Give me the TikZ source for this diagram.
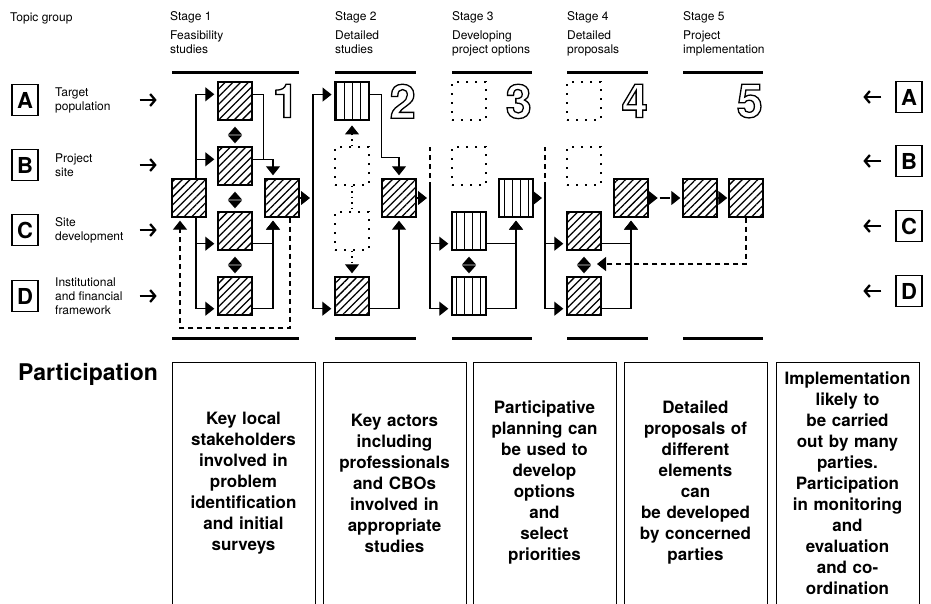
\documentclass[tikz,border=0pt]{standalone}
\usepackage{fontspec}
\setmainfont{TeX Gyre Heros}
\usetikzlibrary{arrows.meta,patterns.meta}

% outlined stage numbers (stroke-only text)
\newcommand\outlined[1]{\special{pdf:literal direct 1 Tr 1.3 w}#1\special{pdf:literal direct 0 Tr}}

\tikzset{
  tri/.tip={Triangle[length=9pt,width=14pt]},
  stagebox/.style={draw, line width=1.4pt, minimum width=34pt, minimum height=38pt, inner sep=0pt},
  hatched/.style={stagebox, pattern={Lines[angle=45,distance=5.5pt,line width=1.3pt]}},
  lined/.style={stagebox, pattern={Lines[angle=90,distance=8pt,line width=0.9pt]}},
  dotbox/.style={stagebox, line width=1.3pt, dash pattern=on 2pt off 7pt},
  link/.style={line width=1.1pt},
  flow/.style={link, -tri, shorten >=3pt},
  twoway/.style={line width=1.1pt, white,
    arrows={Triangle[length=8pt,width=14pt,color=black]-Triangle[length=8pt,width=14pt,color=black]},
    shorten <=6pt, shorten >=3pt},
  dashlink/.style={link, dash pattern=on 5pt off 4pt},
  dashflow/.style={dashlink, -tri, shorten >=3pt},
  dotlink/.style={link, dash pattern=on 1.5pt off 4pt},
  dotflow/.style={dotlink, -tri, shorten >=3pt},
  stagebar/.style={line width=3pt},
  topicarrow/.style={line width=2.3pt, -{Straight Barb[length=5pt,width=12pt]}},
  letterbox/.style={draw, line width=1.3pt, minimum width=26pt, minimum height=31pt, inner sep=0pt,
    font=\fontsize{22}{22}\selectfont\bfseries},
  smalltext/.style={font=\fontsize{12}{14}\selectfont, inner sep=0pt},
  partbox/.style={draw, line width=1pt, minimum height=242pt, text width=143pt, inner sep=0pt,
    align=center, font=\fontsize{17}{21}\selectfont\bfseries},
  digit/.style={inner sep=0pt, font=\fontsize{47}{47}\selectfont\bfseries},
}

\begin{document}
\begin{tikzpicture}[x=1pt,y=-1pt]
  \useasboundingbox (0,0) rectangle (931,603);
  % Headings
  \node[smalltext, anchor=west] (topic) at (10,18) {Topic group};
  \foreach \n/\x/\t in {1/170/{Feasibility\\studies}, 2/335/{Detailed\\studies},
      3/452/{Developing\\project options}, 4/567/{Detailed\\proposals}, 5/683/{Project\\implementation}} {
    \node[smalltext, anchor=west] (stage\n) at (\x,17) {Stage \n};
    \node[smalltext, anchor=north west, align=left] (title\n) at (\x,31) {\t};
  }
  % Stage bars and numbers
  \foreach \n/\a/\b in {1/172/299, 2/335/416, 3/452/532, 4/567/648, 5/683/763} {
    \draw[stagebar] (\a,72) -- (\b,72);
    \draw[stagebar] (\a,338) -- (\b,338);
    \node[digit, anchor=north east] (num\n) at (\b,84) {\outlined{\n}};
  }
  % Topic groups
  \foreach \r/\y/\t in {A/100/{Target\\population}, B/165/{Project\\site},
      C/230/{Site\\development}, D/296/{Institutional\\and financial\\framework}} {
    \node[letterbox] (l\r) at (25,\y) {\r};
    \node[smalltext, anchor=west, align=left] (lt\r) at (55,\y) {\t};
    \draw[topicarrow] ([xshift=101pt]l\r.east) -- ([xshift=118pt]l\r.east);
  }
  \foreach \r/\y in {A/97, B/161, C/226, D/291} {
    \node[letterbox] (r\r) at (909,\y) {\r};
    \draw[topicarrow] ([xshift=-14pt]r\r.west) -- ([xshift=-32pt]r\r.west);
  }

  % Stage 1
  \node[hatched] (s1l) at (189,198) {};
  \node[hatched] (s1a) at (235,101) {};
  \node[hatched] (s1b) at (235,166) {};
  \node[hatched] (s1c) at (235,231) {};
  \node[hatched] (s1d) at (235,296) {};
  \node[hatched] (s1r) at (282,198) {};
  \draw[flow] ([xshift=7pt]s1l.north) |- ([yshift=-13pt]s1a.north west);
  \draw[flow] ([xshift=7pt]s1l.north) |- ([yshift=-13pt]s1b.north west);
  \draw[flow] ([xshift=7pt]s1l.south) |- ([yshift=7pt]s1c.south west);
  \draw[flow] ([xshift=7pt]s1l.south) |- ([yshift=7pt]s1d.south west);
  \draw[link] ([yshift=-13pt]s1a.north east) -| ([xshift=11pt,yshift=-13pt]s1b.north east);
  \draw[flow] ([yshift=-13pt]s1b.north east) -| ([xshift=-9pt]s1r.north);
  \draw[flow] ([yshift=7pt]s1c.south east) -| ([xshift=-9pt]s1r.south);
  \draw[flow] ([yshift=7pt]s1d.south east) -| ([xshift=-9pt]s1r.south);
  \draw[twoway] (s1a.south) -- (s1b.north);
  \draw[twoway] (s1b.south) -- (s1c.north);
  \draw[twoway] (s1c.south) -- (s1d.north);
  \coordinate (loop1) at (180,328);
  \draw[dashflow] ([xshift=8pt]s1r.south) |- (loop1) -- ([xshift=-9pt]s1l.south);

  % Stage 2
  \coordinate (t2) at (313,198);
  \node[lined] (s2a) at (352,101) {};
  \node[dotbox] (s2b) at (352,166) {};
  \node[dotbox] (s2c) at (352,231) {};
  \node[hatched] (s2d) at (352,296) {};
  \node[hatched] (s2r) at (399,198) {};
  \draw[flow] (s1r.east) -- (s1r.east -| t2);
  \draw[flow] (t2) |- ([yshift=-13pt]s2a.north west);
  \draw[flow] (t2) |- ([yshift=7pt]s2d.south west);
  \draw[flow] ([yshift=-13pt]s2a.north east) -| ([yshift=21pt]s2r.north west) -| (s2r.north);
  \draw[dotflow, shorten >=5pt] (s2b.north) -- (s2a.south);
  \draw[dotlink] (s2b.south) -- (s2c.north);
  \draw[dotflow] (s2c.south) -- (s2d.north);
  \draw[flow] ([yshift=7pt]s2d.south east) -| (s2r.south);

  % Stage 3
  \coordinate (t3) at (430,198);
  \node[dotbox] (s3a) at (469,101) {};
  \node[dotbox] (s3b) at (469,166) {};
  \node[lined] (s3c) at (469,231) {};
  \node[lined] (s3d) at (469,296) {};
  \node[lined] (s3r) at (516,198) {};
  \draw[flow] (s2r.east) -- (s2r.east -| t3);
  \draw[dashlink] ([yshift=11pt]t3) -- ([yshift=51pt]t3);
  \draw[flow] ([yshift=11pt]t3) |- ([yshift=7pt]s3c.south west);
  \draw[flow] ([yshift=11pt]t3) |- ([yshift=7pt]s3d.south west);
  \draw[flow] ([yshift=7pt]s3c.south east) -| (s3r.south);
  \draw[flow] ([yshift=7pt]s3d.south east) -| (s3r.south);
  \draw[twoway] (s3c.south) -- (s3d.north);

  % Stage 4
  \coordinate (t4) at (545,198);
  \node[dotbox] (s4a) at (584,101) {};
  \node[dotbox] (s4b) at (584,166) {};
  \node[hatched] (s4c) at (584,231) {};
  \node[hatched] (s4d) at (584,296) {};
  \node[hatched] (s4r) at (631,198) {};
  \draw[flow] (s3r.east) -- (s3r.east -| t4);
  \draw[dashlink] ([yshift=11pt]t4) -- ([yshift=51pt]t4);
  \draw[flow] ([yshift=11pt]t4) |- ([yshift=7pt]s4c.south west);
  \draw[flow] ([yshift=11pt]t4) |- ([yshift=7pt]s4d.south west);
  \draw[flow] ([yshift=7pt]s4c.south east) -| (s4r.south);
  \draw[flow] ([yshift=7pt]s4d.south east) -| (s4r.south);
  \draw[twoway] (s4c.south) -- (s4d.north);

  % Stage 5
  \node[hatched] (s5a) at (700,198) {};
  \node[hatched] (s5b) at (746,198) {};
  \draw[link, dash pattern=on 0pt off 3pt on 10pt off 20pt,
        {Triangle[length=9pt,width=14pt,reversed]}-{Triangle[length=9pt,width=14pt]}, shorten >=2pt]
        (s4r.east) -- (s5a.west);
  \draw[flow, shorten >=1pt] (s5a.east) -- (s5b.west);
  \coordinate (fb) at (597,264);
  \draw[dashflow, shorten >=0pt] (s5b.south) |- (fb);

  % Participation
  \node[font=\fontsize{23}{23}\selectfont\bfseries, anchor=base west, inner sep=0pt] (part) at (18,380) {Participation};
  \node[partbox] (p1) at (243.5,483) {Key local\\stakeholders\\involved in\\problem\\identification\\and initial\\surveys};
  \node[partbox] (p2) at (394.5,483) {Key actors\\including\\professionals\\and CBOs\\involved in\\appropriate\\studies};
  \node[partbox] (p3) at (544.5,483) {Participative\\planning can\\be used to\\develop\\options\\and\\select\\priorities};
  \node[partbox] (p4) at (695.5,483) {Detailed\\proposals of\\different\\elements\\can\\be developed\\by concerned\\parties};
  \node[partbox] (p5) at (847.5,483) {Implementation\\likely to\\be carried\\out by many\\parties.\\Participation\\in monitoring\\and\\evaluation\\and co-\\ordination};
\end{tikzpicture}
\end{document}
